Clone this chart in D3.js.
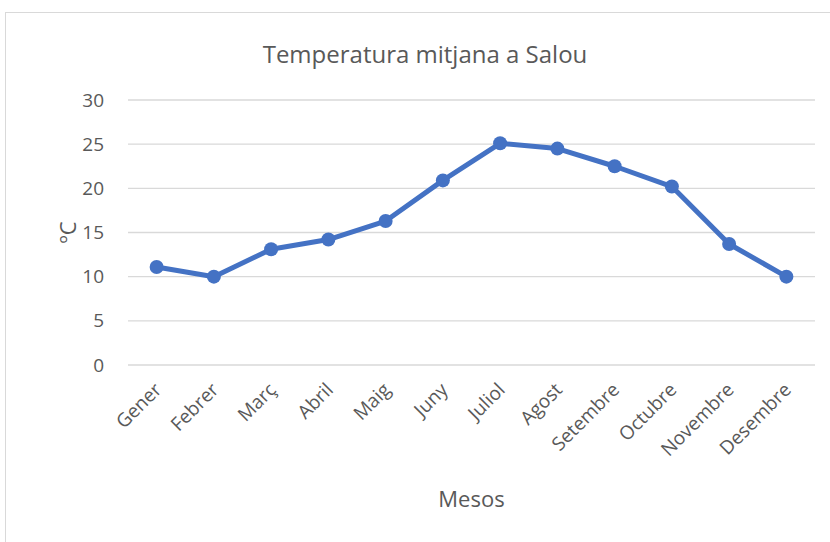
<!DOCTYPE html>
<html>
<head>
<meta charset="utf-8">
<script src="https://cdn.jsdelivr.net/npm/d3@7"></script>
<style>
  body { margin: 0; background: #fff; }
  svg { font-family: "Open Sans", "Noto Sans", sans-serif; }
</style>
</head>
<body>
<svg id="chart" width="830" height="542"></svg>
<script>
const months = ["Gener", "Febrer", "Març", "Abril", "Maig", "Juny", "Juliol", "Agost", "Setembre", "Octubre", "Novembre", "Desembre"];
const temps = [11.1, 10.0, 13.1, 14.2, 16.3, 20.9, 25.1, 24.5, 22.5, 20.2, 13.7, 10.0];
const yTicks = [0, 5, 10, 15, 20, 25, 30];

const svg = d3.select("#chart");
const margin = { top: 100, right: 15, bottom: 177, left: 128 };
const width = 830, height = 542;

// chart frame
svg.append("rect")
  .attr("x", 5.5).attr("y", 12.5)
  .attr("width", 840).attr("height", 560)
  .attr("fill", "#fff")
  .attr("stroke", "#d9d9d9");

const x = d3.scalePoint()
  .domain(months)
  .range([margin.left, width - margin.right])
  .padding(0.5);

const y = d3.scaleLinear()
  .domain([0, 30])
  .range([height - margin.bottom, margin.top]);

// gridlines
svg.append("g")
  .selectAll("line")
  .data(yTicks)
  .join("line")
  .attr("x1", margin.left).attr("x2", width - margin.right)
  .attr("y1", d => y(d)).attr("y2", d => y(d))
  .attr("stroke", "#d9d9d9")
  .attr("stroke-width", 1.3);

// y axis labels
svg.append("g")
  .selectAll("text")
  .data(yTicks)
  .join("text")
  .attr("x", 104)
  .attr("y", d => y(d))
  .attr("dy", "0.35em")
  .attr("text-anchor", "end")
  .attr("fill", "#595959")
  .attr("font-size", 19)
  .text(d => d);

// x axis labels
svg.append("g")
  .selectAll("text")
  .data(months)
  .join("text")
  .attr("transform", d => `translate(${x(d) + 6},${y(0) + 26}) rotate(-45)`)
  .attr("text-anchor", "end")
  .attr("fill", "#595959")
  .attr("font-size", 19)
  .text(d => d);

// line + markers
const line = d3.line()
  .x((d, i) => x(months[i]))
  .y(d => y(d));

svg.append("path")
  .datum(temps)
  .attr("d", line)
  .attr("fill", "none")
  .attr("stroke", "#4472C4")
  .attr("stroke-width", 5)
  .attr("stroke-linejoin", "round");

svg.append("g")
  .selectAll("circle")
  .data(temps)
  .join("circle")
  .attr("cx", (d, i) => x(months[i]))
  .attr("cy", d => y(d))
  .attr("r", 7)
  .attr("fill", "#4472C4");

// titles
svg.append("text")
  .attr("x", 425).attr("y", 63)
  .attr("text-anchor", "middle")
  .attr("fill", "#595959")
  .attr("font-size", 24)
  .text("Temperatura mitjana a Salou");

svg.append("text")
  .attr("x", (margin.left + width - margin.right) / 2).attr("y", 507)
  .attr("text-anchor", "middle")
  .attr("fill", "#595959")
  .attr("font-size", 22)
  .text("Mesos");

svg.append("text")
  .attr("transform", `translate(76,${y(15)}) rotate(-90)`)
  .attr("text-anchor", "middle")
  .attr("fill", "#595959")
  .attr("font-size", 22)
  .text("ºC");
</script>
</body>
</html>
